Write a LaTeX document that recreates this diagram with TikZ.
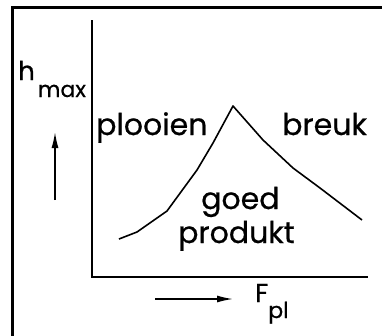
\documentclass[tikz,border=0pt]{standalone}
\usepackage{fontspec}
\usetikzlibrary{arrows.meta}
\setmainfont{Poppins}[FakeBold=0.6]
\newcommand{\sub}[3]{\kern#1\raisebox{-#2}{\fontsize{22}{24}\selectfont #3}}
\begin{document}
\begin{tikzpicture}[x=1pt, y=-1pt, >={Latex[length=16pt,width=7pt]}, every node/.style={font=\fontsize{30}{33}\selectfont, inner sep=0pt, anchor=base west}]
  \tikzstyle{pijl}=[->, line width=1.5pt]
  \tikzstyle{as}=[font=\fontsize{26}{28}\selectfont]
  \useasboundingbox (0,0) rectangle (382,335);
  % frame
  \draw[line width=3pt] (12,420) -- (12,7) -- (420,7);
  % axes
  \coordinate (top) at (92,20);
  \coordinate (orig) at (92,277);
  \coordinate (xend) at (368,277);
  \draw[line width=1.8pt] (top) -- (orig) -- (xend);
  % grens tussen de gebieden
  \draw[line width=1.6pt, line join=round] (119,239) -- (137,232) -- (167,211) -- (197,170)
    -- (213,143) -- (233,106) -- (263,140) -- (293,168) -- (320,188) -- (362,220);
  % teksten
  \node[as] (hmax) at (18,80) {h\sub{3pt}{17pt}{max}};
  \node (plooi) at (96,135) {plooien};
  \node (breuk) at (282,135) {breuk};
  \node (goed) at (201,209) {goed};
  \node (prod) at (178,243) {produkt};
  \node[as] (fpl) at (255,302) {F\sub{0pt}{16pt}{pl}};
  % pijlen
  \coordinate (ha) at (55,200);
  \coordinate (hb) at (55,132);
  \draw[pijl] (ha) -- (hb);
  \coordinate (fa) at (155,299);
  \coordinate (fb) at (233,299);
  \draw[pijl] (fa) -- (fb);
\end{tikzpicture}
\end{document}
